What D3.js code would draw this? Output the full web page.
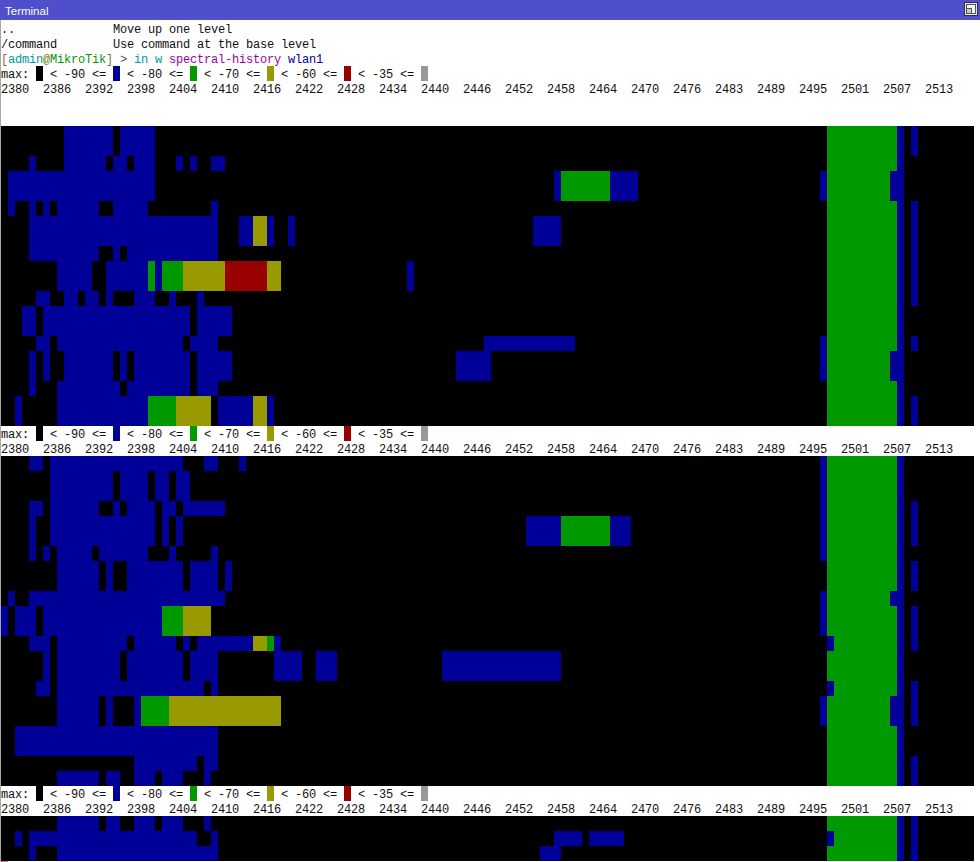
<!DOCTYPE html>
<html>
<head>
<meta charset="utf-8">
<script src="https://cdn.jsdelivr.net/npm/d3@7"></script>
<style>
html,body{margin:0;padding:0;background:#fff;overflow:hidden}
svg{display:block}
.term{font-family:"Liberation Mono",monospace;font-size:12px;letter-spacing:-0.2px;white-space:pre}
</style>
</head>
<body>
<svg id="c" width="980" height="862"></svg>
<script>
// Frequency labels (MHz), one every six columns
const freqLabels = [2380,2386,2392,2398,2404,2410,2416,2422,2428,2434,2440,2446,2452,2458,2464,2470,2476,2483,2489,2495,2501,2507,2513];
// Legend: power level thresholds and colours
const levelNames = ["none","low","mid","high","peak","max"];
const levelColors = ["#000000","#000099","#009900","#999900","#990000","#999999"];
const legendLimits = ["-90","-80","-70","-60","-35"];

// Each run: [firstSweep, lastSweep, firstBin, endBin, level]
const sweepsA = [
 [0,1,9,16,1],[0,1,17,22,1],
 [2,2,4,5,1],[2,2,9,15,1],[2,2,16,18,1],[2,2,19,22,1],[2,2,25,26,1],[2,2,27,28,1],[2,2,30,32,1],
 [3,4,1,22,1],[3,4,79,80,1],[3,4,80,87,2],[3,4,87,91,1],
 [5,5,1,2,1],[5,5,4,5,1],[5,5,6,7,1],[5,5,8,14,1],[5,5,16,21,1],[5,5,30,31,1],
 [6,7,4,31,1],[6,7,34,36,1],[6,7,36,38,3],[6,7,38,39,1],[6,7,41,42,1],[6,7,76,80,1],
 [8,8,4,14,1],[8,8,16,17,1],[8,8,18,31,1],
 [9,10,8,13,1],[9,10,15,21,1],[9,10,21,22,2],[9,10,22,23,1],[9,10,23,26,2],[9,10,26,32,3],[9,10,32,38,4],[9,10,38,40,3],[9,10,58,59,1],
 [11,11,5,7,1],[11,11,9,11,1],[11,11,12,14,1],[11,11,15,16,1],[11,11,19,22,1],[11,11,24,25,1],[11,11,28,29,1],
 [12,13,3,5,1],[12,13,6,27,1],[12,13,28,33,1],
 [14,14,5,7,1],[14,14,8,26,1],[14,14,27,31,1],[14,14,69,82,1],
 [15,16,4,5,1],[15,16,6,7,1],[15,16,9,16,1],[15,16,17,18,1],[15,16,19,27,1],[15,16,28,33,1],[15,16,65,70,1],
 [17,17,4,5,1],[17,17,8,17,1],[17,17,18,27,1],[17,17,28,31,1],
 [18,19,2,3,1],[18,19,8,21,1],[18,19,21,25,2],[18,19,25,30,3],[18,19,31,36,1],[18,19,36,38,3],[18,19,38,39,1],
 // carrier on the right
 [0,19,118,128,2],[0,19,128,129,1],
 [0,1,130,131,1],[3,4,117,118,1],[3,4,127,128,1],[5,11,130,131,1],
 [14,16,117,118,1],[14,14,130,131,1],[15,16,127,128,1],[18,19,130,131,1]
];
const sweepsB = [
 [0,0,4,6,1],[0,0,7,26,1],[0,0,29,31,1],[0,0,34,35,1],
 [1,2,7,16,1],[1,2,17,21,1],[1,2,22,24,1],[1,2,25,27,1],
 [3,3,4,6,1],[3,3,7,14,1],[3,3,16,17,1],[3,3,18,22,1],[3,3,23,25,1],[3,3,26,32,1],
 [4,5,4,5,1],[4,5,7,22,1],[4,5,23,24,1],[4,5,25,26,1],[4,5,75,80,1],[4,5,80,87,2],[4,5,87,90,1],
 [6,6,4,5,1],[6,6,6,7,1],[6,6,8,13,1],[6,6,14,21,1],[6,6,24,25,1],[6,6,30,31,1],
 [7,8,8,14,1],[7,8,15,16,1],[7,8,18,26,1],[7,8,27,31,1],[7,8,32,33,1],
 [9,9,1,2,1],[9,9,4,32,1],
 [10,11,0,1,1],[10,11,2,5,1],[10,11,6,23,1],[10,11,23,26,2],[10,11,26,30,3],
 [12,12,4,7,1],[12,12,8,18,1],[12,12,19,25,1],[12,12,26,27,1],[12,12,28,36,1],[12,12,36,38,3],[12,12,38,39,2],[12,12,39,40,1],
 [13,14,6,7,1],[13,14,8,17,1],[13,14,18,26,1],[13,14,27,31,1],[13,14,39,43,1],[13,14,45,48,1],[13,14,63,80,1],
 [15,15,5,7,1],[15,15,8,29,1],[15,15,30,31,1],
 [16,17,8,14,1],[16,17,15,16,1],[16,17,19,20,1],[16,17,20,24,2],[16,17,24,40,3],
 [18,19,2,31,1],
 [20,20,19,28,1],[20,20,29,31,1],
 [21,21,8,14,1],[21,21,15,17,1],[21,21,19,22,1],[21,21,23,26,1],[21,21,29,30,1],
 // carrier on the right
 [0,21,118,128,2],[0,21,128,129,1],
 [0,6,117,118,1],[9,11,117,118,1],[9,9,127,128,1],[12,12,118,119,1],[15,15,118,119,1],[16,17,117,118,1],[16,17,127,128,1],
 [3,5,130,131,1],[7,8,130,131,1],[10,12,130,131,1],[15,17,130,131,1],[20,21,130,131,1]
];
const sweepsC = [
 [0,0,8,14,1],[0,0,15,17,1],[0,0,19,22,1],[0,0,23,26,1],[0,0,29,30,1],
 [1,1,2,3,1],[1,1,4,28,1],[1,1,30,31,1],[1,1,79,83,1],[1,1,84,89,1],
 [2,2,4,5,1],[2,2,8,31,1],[2,2,77,80,1],
 [0,2,118,128,2],[0,2,128,129,1],[0,2,130,131,1],[1,1,118,119,1]
];
// Console text lines
const helpLines = [
 [0,"..","Move up one level"],
 [1,"/command","Use command at the base level"]
];
const promptParts = [
 ["[","#a05a5a"],["admin","#009999"],["@","#7a7a20"],["MikroTik","#009900"],["]","#7a7a20"],
 [" > ","#555555"],["in w ","#009999"],["spectral-history ","#a000a0"],["wlan1","#000099"]
];

const cols = 139, charW = 7, lineH = 15, originX = 1, originY = 21;
// The terminal is a character grid: both axes are linear scales over cells
const x = d3.scaleLinear().domain([0, cols]).range([originX, originX + cols*charW]);
const y = d3.scaleLinear().domain([0, 57]).range([originY, originY + 57*lineH]);
const color = d3.scaleOrdinal().domain(d3.range(levelColors.length)).range(levelColors);

const svg = d3.select("#c");
const W = +svg.attr("width"), H = +svg.attr("height");

svg.append("rect").attr("width",W).attr("height",H).attr("fill","#ffffff");
// window chrome
svg.append("rect").attr("width",W).attr("height",20).attr("fill","#4f4fcc");
svg.append("text").text("Terminal").attr("x",5).attr("y",14.5)
  .attr("fill","#ffffff").attr("font-family","'Liberation Sans',sans-serif").attr("font-size",11.5);
svg.append("rect").attr("x",0).attr("y",20).attr("width",1).attr("height",H-20).attr("fill","#a8a8a8");
const ic = svg.append("g");
ic.append("rect").attr("x",964.5).attr("y",2.5).attr("width",13).attr("height",13).attr("fill","#e4e4ea").attr("stroke","#333");
ic.append("rect").attr("x",966.5).attr("y",4.5).attr("width",9).attr("height",9).attr("fill","#f2f2f2").attr("stroke","#555");
ic.append("rect").attr("x",966.5).attr("y",8.5).attr("width",5).attr("height",5).attr("fill","#c8c8c8").attr("stroke","#555");

const text = (line, col, str, fill="#111111") => svg.append("text").attr("class","term")
  .attr("xml:space","preserve").attr("x",x(col)).attr("y",y(line)+11.5).attr("fill",fill).text(str);

helpLines.forEach(d => { text(d[0],0,d[1]); text(d[0],16,d[2]); });
let pc = 0;
promptParts.forEach(p => { text(2,pc,p[0],p[1]); pc += p[0].length; });

function header(line){
  text(line,0,"max:");
  levelColors.forEach((c,i) => {
    const col = 5 + i*11;
    svg.append("rect").attr("x",x(col)).attr("y",y(line)).attr("width",x(col+1)-x(col)).attr("height",y(line+1)-y(line)).attr("fill",color(i));
    if(i < legendLimits.length) text(line,col+2,"< "+legendLimits[i]+" <=");
  });
  svg.append("g").selectAll("text").data(freqLabels).join("text").attr("class","term")
    .attr("x",(d,i)=>x(i*6)).attr("y",y(line+1)+11.5).attr("fill","#111111").text(d=>d);
}
function block(line, rows, runs){
  const g = svg.append("g");
  g.append("rect").attr("x",x(0)).attr("y",y(line)).attr("width",x(cols)-x(0)).attr("height",y(line+rows)-y(line)).attr("fill",color(0));
  g.selectAll("rect.r").data(runs).join("rect").attr("class","r")
   .attr("x",d=>x(d[2])).attr("y",d=>y(line+d[0]))
   .attr("width",d=>x(d[3])-x(d[2])).attr("height",d=>y(line+d[1]+1)-y(line+d[0]))
   .attr("fill",d=>color(d[4]));
}
header(3);
block(7,20,sweepsA);
header(27);
block(29,22,sweepsB);
header(51);
block(53,3,sweepsC);
// cursor, just visible at the window's lower edge
svg.append("rect").attr("x",x(0)).attr("y",y(56)).attr("width",x(1)-x(0)).attr("height",lineH).attr("fill","#e878a8");
</script>
</body>
</html>
